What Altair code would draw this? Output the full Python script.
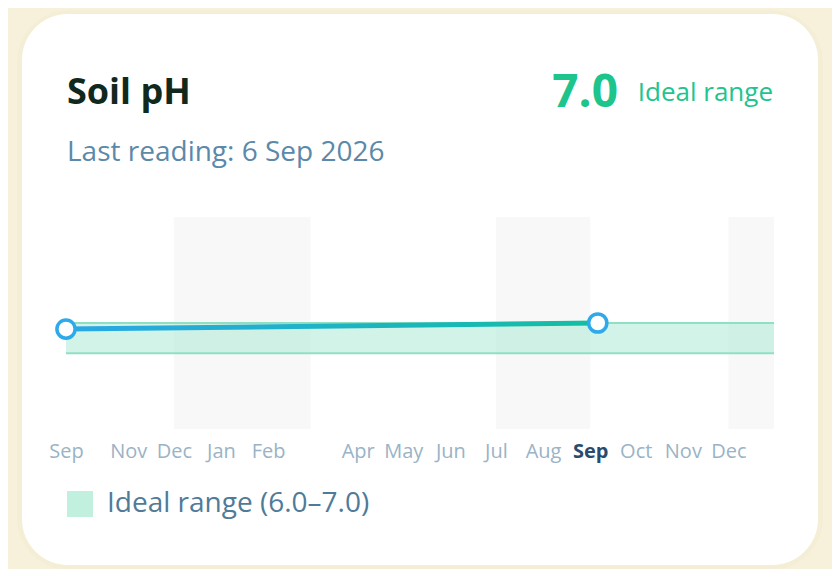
import altair as alt
import pandas as pd

# ---- data ----
reading_dates = ["2025-09-21", "2026-09-06"]
reading_ph = [6.8, 7.0]

season_starts = ["2025-12-01", "2026-07-01", "2026-12-01"]
season_ends = ["2026-03-01", "2026-09-01", "2026-12-31"]

ideal_low = 6.0
ideal_high = 7.0
ideal_label = "Ideal range (6.0–7.0)"

x_start = "2025-09-21"
x_end = "2026-12-31"
tick_dates = ["2025-09-21", "2025-11-01", "2025-12-01", "2026-01-01", "2026-02-01",
              "2026-04-01", "2026-05-01", "2026-06-01", "2026-07-01", "2026-08-01",
              "2026-09-01", "2026-10-01", "2026-11-01", "2026-12-01"]

title_text = "Soil pH"
subtitle_text = "Last reading: 6 Sep 2026"
value_text = "7.0"
status_text = "Ideal range"

FONT = "Open Sans"
W, H = 708, 212


def ms(s):
    return int(pd.Timestamp(s, tz="UTC").value // 10**6)


readings = pd.DataFrame({"date": [ms(d) for d in reading_dates], "ph": reading_ph})
seasons = pd.DataFrame({"start": [ms(d) for d in season_starts], "end": [ms(d) for d in season_ends]})
ideal = pd.DataFrame({"start": [ms(x_start)], "end": [ms(x_end)],
                      "low": [ideal_low], "high": [ideal_high], "label": [ideal_label]})
one = pd.DataFrame({"k": [0]})

xscale = alt.Scale(type="utc", domain=[ms(x_start), ms(x_end)], nice=False)
yscale = alt.Scale(domain=[3.5, 10.5], nice=False, zero=False)

bold_test = "utcmonth(datum.value) == 8 && utcyear(datum.value) == 2026"
xaxis = alt.Axis(
    values=[ms(d) for d in tick_dates], labelExpr="utcFormat(datum.value, '%b')",
    title=None, domain=False, ticks=False, grid=False, zindex=5,
    labelFont=FONT, labelFontSize=20, labelPadding=12,
    labelOverlap=False, labelFlush=False,
    labelColor={"condition": {"test": bold_test, "value": "#2a4b6e"}, "value": "#9ab3c6"},
    labelFontWeight={"condition": {"test": bold_test, "value": "bold"}, "value": "normal"},
)

# card background
shadow = alt.Chart(one).mark_rect(cornerRadius=52, fill="#f1e9cc", opacity=0.3).encode(
    x=alt.value(-49), x2=alt.value(757), y=alt.value(-207), y2=alt.value(353))
card = alt.Chart(one).mark_rect(cornerRadius=46, fill="white").encode(
    x=alt.value(-44), x2=alt.value(752), y=alt.value(-203), y2=alt.value(348))

season_rects = alt.Chart(seasons).mark_rect(fill="#f8f8f8").encode(
    x=alt.X("start:T", scale=xscale, axis=xaxis),
    x2="end:T",
    y=alt.value(0), y2=alt.value(H),
)

ideal_band = alt.Chart(ideal).mark_rect(opacity=0.5).encode(
    x=alt.X("start:T", scale=xscale, axis=xaxis),
    x2="end:T",
    y=alt.Y("low:Q", scale=yscale, axis=None),
    y2="high:Q",
    fill=alt.Fill("label:N", scale=alt.Scale(range=["#a6ead2"]),
                  legend=alt.Legend(title=None, orient="none", legendX=0, legendY=273,
                                    symbolType="square", symbolSize=676, symbolStrokeWidth=0,
                                    symbolOpacity=0.7, labelFont=FONT, labelFontSize=28,
                                    labelColor="#4f7b99", labelOffset=13, labelLimit=500)),
)

edge_low = alt.Chart(ideal).mark_rule(color="#8fe0c3", strokeWidth=2).encode(
    x=alt.X("start:T", scale=xscale, axis=xaxis), x2="end:T",
    y=alt.Y("low:Q", scale=yscale, axis=None))
edge_high = alt.Chart(ideal).mark_rule(color="#8fe0c3", strokeWidth=2).encode(
    x=alt.X("start:T", scale=xscale, axis=xaxis), x2="end:T",
    y=alt.Y("high:Q", scale=yscale, axis=None))

grad = alt.Gradient(gradient="linear",
                    stops=[alt.GradientStop(color="#2aa7e6", offset=0),
                           alt.GradientStop(color="#12bfa2", offset=1)],
                    x1=0, x2=1, y1=0, y2=0)
line = alt.Chart(readings).mark_line(stroke=grad, strokeWidth=5, strokeCap="round").encode(
    x=alt.X("date:T", scale=xscale, axis=xaxis),
    y=alt.Y("ph:Q", scale=yscale, axis=None),
)
points = alt.Chart(readings).mark_point(shape="circle", filled=True, fill="white", stroke="#2ea9ea",
                                        strokeWidth=3.5, size=330, opacity=1).encode(
    x=alt.X("date:T", scale=xscale, axis=xaxis),
    y=alt.Y("ph:Q", scale=yscale, axis=None),
)

title = alt.Chart(one).mark_text(text=title_text, font=FONT, fontSize=36, fontWeight="bold",
                                 color="#11291d", align="left", baseline="alphabetic").encode(
    x=alt.value(1), y=alt.value(-113))
subtitle = alt.Chart(one).mark_text(text=subtitle_text, font=FONT, fontSize=28,
                                    color="#5b89a9", align="left", baseline="alphabetic").encode(
    x=alt.value(1), y=alt.value(-56))
value = alt.Chart(one).mark_text(text=value_text, font=FONT, fontSize=46, fontWeight="bold",
                                 color="#1dc48b", align="right", baseline="alphabetic").encode(
    x=alt.value(552), y=alt.value(-110))
status = alt.Chart(one).mark_text(text=status_text, font=FONT, fontSize=26,
                                  color="#22c48e", align="right", baseline="alphabetic").encode(
    x=alt.value(707), y=alt.value(-116))

chart = alt.layer(
    shadow, card, season_rects, ideal_band, edge_low, edge_high, line, points,
    title, subtitle, value, status,
).resolve_scale(x="shared", y="shared").properties(
    width=W, height=H,
    autosize=alt.AutoSizeParams(type="none"),
    padding={"left": 58, "top": 209, "right": 58, "bottom": 140},
    background="#f7f1dc",
).configure_view(stroke=None)

chart.save("out.html", embed_options={"renderer": "svg", "actions": False})
